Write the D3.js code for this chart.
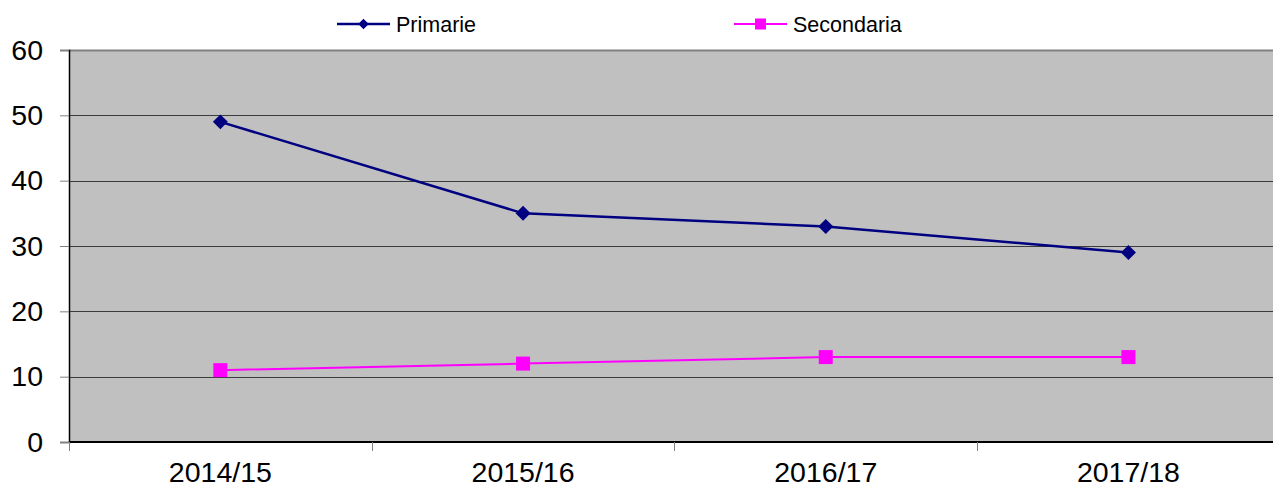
<!DOCTYPE html>
<html>
<head>
<meta charset="utf-8">
<script src="https://cdn.jsdelivr.net/npm/d3@7"></script>
<style>
  body { margin: 0; background: #fff; }
  svg { display: block; font-family: "Liberation Sans", Arial, sans-serif; }
</style>
</head>
<body>
<svg id="chart" width="1273" height="488"></svg>
<script>
// data
var categories = ["2014/15", "2015/16", "2016/17", "2017/18"];
var primarie = [49, 35, 33, 29];
var secondaria = [11, 12, 13, 13];
var yTicks = [0, 10, 20, 30, 40, 50, 60];

var svg = d3.select("#chart"),
    plotLeft = 69,
    plotTop = 50,
    plotBottom = 442,
    band = 302.7,
    plotRight = plotLeft + band * categories.length;

var x = d3.scaleBand().domain(categories).range([plotLeft, plotRight]).padding(0);
var y = d3.scaleLinear().domain([0, 60]).range([plotBottom, plotTop]);

// plot background
svg.append("rect")
    .attr("x", plotLeft).attr("y", plotTop)
    .attr("width", plotRight - plotLeft).attr("height", plotBottom - plotTop)
    .attr("fill", "#c0c0c0");

// grid lines
svg.append("g").selectAll("line")
    .data(yTicks.filter(function (d) { return d > 0 && d < 60; }))
    .join("line")
    .attr("x1", plotLeft).attr("x2", plotRight)
    .attr("y1", function (d) { return Math.round(y(d)) + 0.5; })
    .attr("y2", function (d) { return Math.round(y(d)) + 0.5; })
    .attr("stroke", "#3c3c3c").attr("stroke-width", 1);

// top border
svg.append("line")
    .attr("x1", plotLeft).attr("x2", plotRight)
    .attr("y1", plotTop + 0.5).attr("y2", plotTop + 0.5)
    .attr("stroke", "#808080").attr("stroke-width", 2);

// y axis
var yAxis = svg.append("g")
    .attr("transform", "translate(" + plotLeft + ",0)")
    .call(d3.axisLeft(y).tickValues(yTicks).tickSize(9).tickPadding(17));
yAxis.select(".domain").attr("stroke", "#000").attr("stroke-width", 1.5);
yAxis.selectAll(".tick line").attr("stroke", "#808080");
yAxis.selectAll("text")
    .attr("font-size", 28.5).attr("fill", "#000")
    .attr("font-family", "Liberation Sans, Arial, sans-serif");

// x axis
svg.append("line")
    .attr("x1", plotLeft).attr("x2", plotRight)
    .attr("y1", plotBottom).attr("y2", plotBottom)
    .attr("stroke", "#000").attr("stroke-width", 2);

var boundaries = d3.range(categories.length + 1).map(function (i) { return plotLeft + i * x.step(); });
svg.append("g").selectAll("line")
    .data(boundaries)
    .join("line")
    .attr("x1", function (d) { return Math.round(d) + 0.5; })
    .attr("x2", function (d) { return Math.round(d) + 0.5; })
    .attr("y1", plotBottom).attr("y2", plotBottom + 9)
    .attr("stroke", "#808080");

svg.append("g").selectAll("text")
    .data(categories)
    .join("text")
    .attr("x", function (d) { return x(d) + x.bandwidth() / 2; })
    .attr("y", 482)
    .attr("text-anchor", "middle")
    .attr("font-size", 28.5)
    .text(function (d) { return d; });

// lines
var line = d3.line()
    .x(function (d, i) { return x(categories[i]) + x.bandwidth() / 2; })
    .y(function (d) { return y(d); });

svg.append("path").datum(primarie)
    .attr("d", line).attr("fill", "none")
    .attr("stroke", "#000080").attr("stroke-width", 2.5);

svg.append("path").datum(secondaria)
    .attr("d", line).attr("fill", "none")
    .attr("stroke", "#ff00ff").attr("stroke-width", 2);

var diamond = d3.symbol().type(d3.symbolSquare).size(112);

svg.append("g").selectAll("path")
    .data(primarie)
    .join("path")
    .attr("d", diamond)
    .attr("transform", function (d, i) {
        return "translate(" + (x(categories[i]) + x.bandwidth() / 2) + "," + y(d) + ") rotate(45)";
    })
    .attr("fill", "#000080");

svg.append("g").selectAll("rect")
    .data(secondaria)
    .join("rect")
    .attr("x", function (d, i) { return x(categories[i]) + x.bandwidth() / 2 - 7; })
    .attr("y", function (d) { return y(d) - 7; })
    .attr("width", 14).attr("height", 14)
    .attr("fill", "#ff00ff");

// legend
var legend = [
    { name: "Primarie", color: "#000080", x: 337, shape: "diamond", w: 2.5 },
    { name: "Secondaria", color: "#ff00ff", x: 734, shape: "square", w: 2 }
];
var lg = svg.append("g").selectAll("g")
    .data(legend)
    .join("g")
    .attr("transform", function (d) { return "translate(" + d.x + ",24)"; });

lg.append("line")
    .attr("x1", 0).attr("x2", 53).attr("y1", 0).attr("y2", 0)
    .attr("stroke", function (d) { return d.color; })
    .attr("stroke-width", function (d) { return d.w; });

lg.filter(function (d) { return d.shape === "diamond"; })
    .append("path")
    .attr("d", d3.symbol().type(d3.symbolSquare).size(56))
    .attr("transform", "translate(26.5,0) rotate(45)")
    .attr("fill", function (d) { return d.color; });

lg.filter(function (d) { return d.shape === "square"; })
    .append("rect")
    .attr("x", 21).attr("y", -5.5).attr("width", 11).attr("height", 11)
    .attr("fill", function (d) { return d.color; });

lg.append("text")
    .attr("x", 59).attr("y", 8)
    .attr("font-size", 21.5)
    .text(function (d) { return d.name; });
</script>
</body>
</html>
